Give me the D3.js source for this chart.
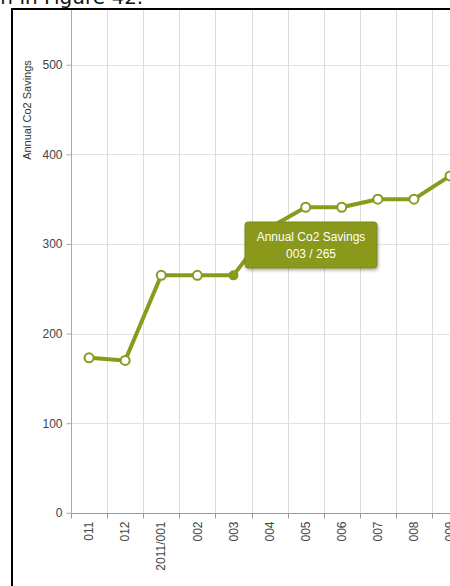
<!DOCTYPE html>
<html><head><meta charset="utf-8">
<script src="https://cdn.jsdelivr.net/npm/d3@7"></script>
<style>
html,body{margin:0;padding:0;background:#fff;overflow:hidden;}
svg{display:block;}
</style></head>
<body>
<script>
const categories = ["011","012","2011/001","002","003","004","005","006","007","008","009"];
const values = [173, 170, 265, 265, 265, 318, 341, 341, 350, 350, 376];
const yTicks = [0, 100, 200, 300, 400, 500];
const seriesName = "Annual Co2 Savings";
const hoverIndex = 4;

const W = 450, H = 586;
const svg = d3.select("body").append("svg").attr("width", W).attr("height", H);

// caption cut off at top
svg.append("text").attr("x", -16).attr("y", 4)
  .attr("font-family", "DejaVu Sans, sans-serif").attr("font-size", 20).attr("fill", "#111")
  .text("wn in Figure 42.");

const x = d3.scaleBand().domain(categories).range([71, 71 + 36.1 * categories.length]);
const y = d3.scaleLinear().domain([0, 560]).range([512.8, 11]);
const green = "#8a9a1c";
const font = "Liberation Sans, Arial, sans-serif";

// grid
const g = svg.append("g");
g.selectAll(".hg").data(yTicks.filter(d => d > 0)).join("line")
  .attr("x1", 71).attr("x2", W).attr("y1", d => Math.round(y(d)) + 0.5).attr("y2", d => Math.round(y(d)) + 0.5)
  .attr("stroke", "#e2e2e2").attr("stroke-width", 1);
g.selectAll(".vg").data(categories.slice(1)).join("line")
  .attr("x1", d => Math.round(x(d)) + 0.5).attr("x2", d => Math.round(x(d)) + 0.5)
  .attr("y1", 10).attr("y2", y(0))
  .attr("stroke", "#dcdcdc").attr("stroke-width", 1);

// y axis
const yAxis = svg.append("g").attr("transform", "translate(71.5,0)")
  .call(d3.axisLeft(y).tickValues(yTicks).tickSize(5).tickPadding(4));
yAxis.select(".domain").attr("stroke", "#aaa").attr("d", `M0,10V${y(0)}`);
yAxis.selectAll(".tick line").attr("stroke", "#aaa");
yAxis.selectAll(".tick text").attr("font-family", font).attr("font-size", 12).attr("fill", "#444");

// x axis
const xAxis = svg.append("g").attr("transform", `translate(0,${Math.round(y(0)) + 0.5})`)
  .call(d3.axisBottom(x).tickSize(0).tickPadding(0));
xAxis.select(".domain").attr("stroke", "#999").attr("d", `M71,0H${W}`);
xAxis.selectAll(".tick text")
  .attr("font-family", font).attr("font-size", 12).attr("fill", "#444")
  .attr("transform", "rotate(-90)").attr("text-anchor", "end")
  .attr("x", -8).attr("y", 0).attr("dy", "0.35em");
xAxis.selectAll(".bt").data(categories).join("line")
  .attr("x1", d => Math.round(x(d)) + 0.5).attr("x2", d => Math.round(x(d)) + 0.5)
  .attr("y1", 0).attr("y2", 5).attr("stroke", "#999");

// y label
svg.append("text").attr("transform", "translate(31,110) rotate(-90)")
  .attr("text-anchor", "middle").attr("font-family", font).attr("font-size", 11).attr("fill", "#333")
  .text(seriesName);

// line
const cx = (d, i) => x(categories[i]) + x.bandwidth() / 2;
svg.append("path").datum(values)
  .attr("d", d3.line().x(cx).y(d => y(d)))
  .attr("fill", "none").attr("stroke", green).attr("stroke-width", 4).attr("stroke-linejoin", "round");

svg.selectAll(".pt").data(values).join("circle")
  .attr("cx", cx).attr("cy", d => y(d))
  .attr("r", (d, i) => i === hoverIndex ? 4 : 4.5)
  .attr("fill", (d, i) => i === hoverIndex ? green : "#fff")
  .attr("stroke", green).attr("stroke-width", 2);

// tooltip
const tipX = 245, tipY = 222, tipW = 132, tipH = 46;
const defs = svg.append("defs");
const f = defs.append("filter").attr("id", "sh").attr("x", "-20%").attr("y", "-20%").attr("width", "140%").attr("height", "150%");
f.append("feDropShadow").attr("dx", 1).attr("dy", 2).attr("stdDeviation", 1.5).attr("flood-color", "#000").attr("flood-opacity", 0.3);
svg.append("rect").attr("x", tipX).attr("y", tipY).attr("width", tipW).attr("height", tipH)
  .attr("rx", 3).attr("fill", "#8a981e").attr("stroke", "#7c8a18").attr("filter", "url(#sh)");
svg.append("text").attr("x", tipX + tipW / 2).attr("y", tipY + 19).attr("text-anchor", "middle")
  .attr("font-family", font).attr("font-size", 12).attr("fill", "#fff").text(seriesName);
svg.append("text").attr("x", tipX + tipW / 2).attr("y", tipY + 36).attr("text-anchor", "middle")
  .attr("font-family", font).attr("font-size", 12).attr("fill", "#fff")
  .text(categories[hoverIndex] + " / " + values[hoverIndex]);

// frame
svg.append("path").attr("d", `M12,${H}V9H${W}`).attr("fill", "none").attr("stroke", "#000").attr("stroke-width", 2);
</script>
</body></html>
